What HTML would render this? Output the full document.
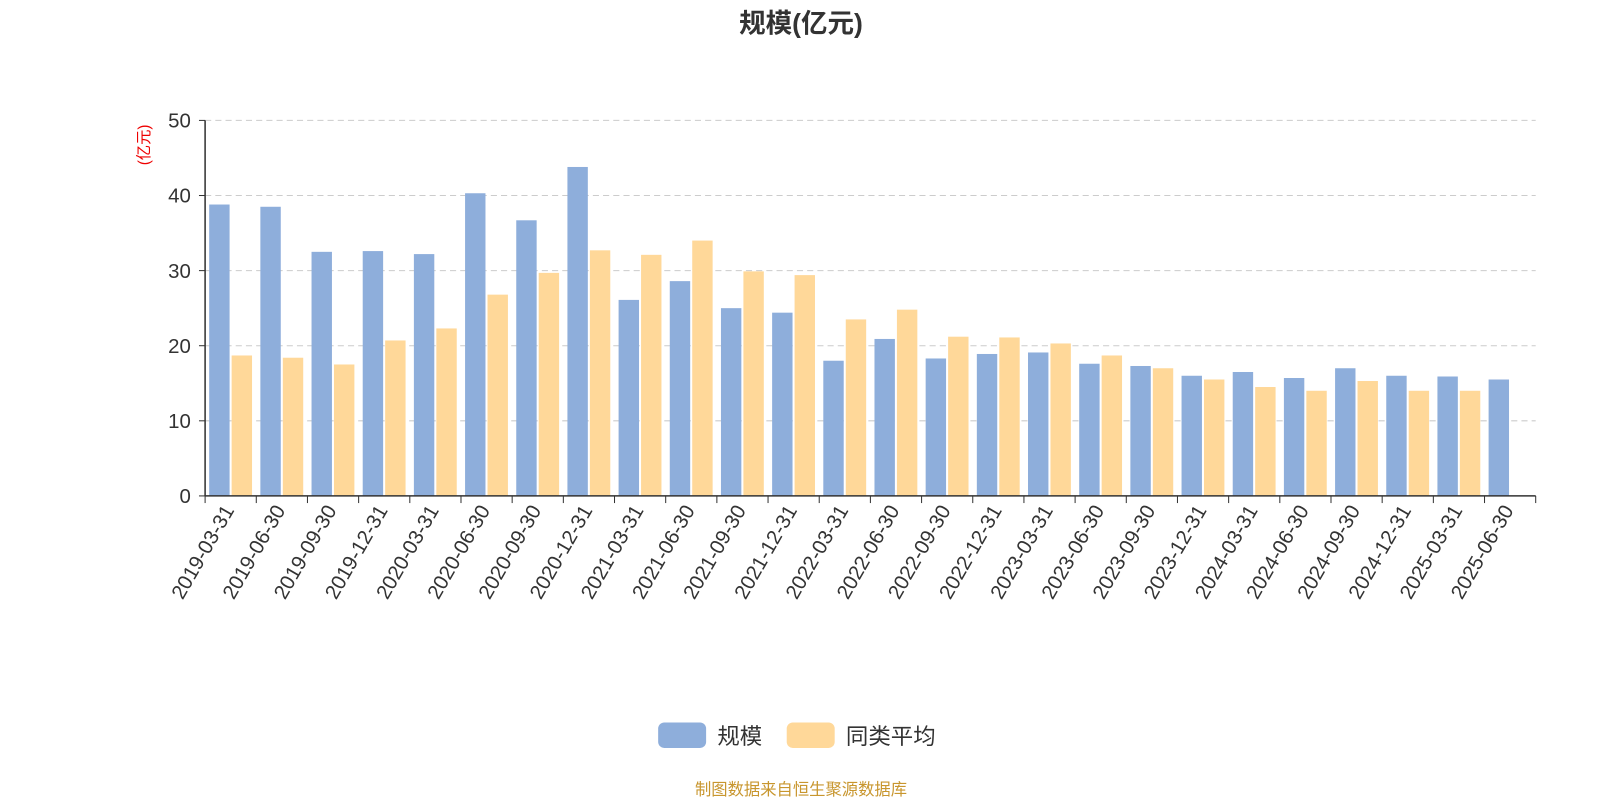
<!DOCTYPE html>
<html><head><meta charset="utf-8"><style>
body{margin:0;background:#fff;}
svg{display:block;font-family:"Liberation Sans","Noto Sans CJK SC",sans-serif;}
</style></head><body>
<svg id="chart" width="1600" height="800">
<g transform="scale(1.0204)">
<text x="785" y="32" text-anchor="middle" font-size="26" font-weight="bold" fill="#333">规模(亿元)</text>
<text transform="translate(146,142) rotate(-90)" text-anchor="middle" font-size="15" fill="#e00">(亿元)</text>
<g id="grid"></g><g id="bars"></g><g id="axes"></g>
<g>
<rect x="645" y="708" width="47" height="25" rx="6" fill="#8eaedb"/>
<text x="703" y="729" font-size="22" fill="#333">规模</text>
<rect x="771" y="708" width="47" height="25" rx="6" fill="#ffd899"/>
<text x="829" y="729" font-size="22" fill="#333">同类平均</text>
</g>
<text x="785" y="779" text-anchor="middle" font-size="16" fill="#c8962e">制图数据来自恒生聚源数据库</text>
</g>
</svg>
<script>
const categories=["2019-03-31","2019-06-30","2019-09-30","2019-12-31","2020-03-31","2020-06-30","2020-09-30","2020-12-31","2021-03-31","2021-06-30","2021-09-30","2021-12-31","2022-03-31","2022-06-30","2022-09-30","2022-12-31","2023-03-31","2023-06-30","2023-09-30","2023-12-31","2024-03-31","2024-06-30","2024-09-30","2024-12-31","2025-03-31","2025-06-30"];
const scaleValues=[38.8,38.5,32.5,32.6,32.2,40.3,36.7,43.8,26.1,28.6,25.0,24.4,18.0,20.9,18.3,18.9,19.1,17.6,17.3,16.0,16.5,15.7,17.0,16.0,15.9,15.5];
const avgValues=[18.7,18.4,17.5,20.7,22.3,26.8,29.7,32.7,32.1,34.0,29.9,29.4,23.5,24.8,21.2,21.1,20.3,18.7,17.0,15.5,14.5,14.0,15.3,14.0,14.0,null];
const yTicks=[0,10,20,30,40,50];
const NS="http://www.w3.org/2000/svg";
const x0=201,x1=1505,y0=486,y1=118,yMax=50;
const band=(x1-x0)/categories.length;
const xPos=i=>x0+i*band;
const yPos=v=>y0-(v/yMax)*(y0-y1);
function mk(tag,attrs,parent){const e=document.createElementNS(NS,tag);for(const k in attrs)e.setAttribute(k,attrs[k]);parent.appendChild(e);return e;}
const grid=document.getElementById('grid'),bars=document.getElementById('bars'),axes=document.getElementById('axes');
yTicks.forEach(t=>{
  const y=yPos(t);
  if(t>0){const l=mk('line',{x1:x0,x2:x1,y1:y,y2:y,stroke:'#ccc','stroke-dasharray':'6,4'},grid);
  
  }
  const tk=mk('line',{x1:x0-6,x2:x0,y1:y,y2:y,stroke:'#333'},axes);
  
  
  const tx=mk('text',{x:x0-14,y:y+7,'text-anchor':'end','font-size':'20',fill:'#333'},axes);
  tx.textContent=t;
  
  
});
categories.forEach((c,i)=>{
  const bx=xPos(i);
  if(scaleValues[i]!=null){const r=mk('rect',{x:bx+4,y:yPos(scaleValues[i]),width:20,height:y0-yPos(scaleValues[i]),fill:'#8eaedb'},bars);
  
  }
  if(avgValues[i]!=null){const r=mk('rect',{x:bx+26,y:yPos(avgValues[i]),width:20,height:y0-yPos(avgValues[i]),fill:'#ffd899'},bars);
  
  }
  const cx=bx+band/2;
  const tx=mk('text',{transform:'translate('+(cx+4)+','+(y0+14)+') rotate(-60)','text-anchor':'end','font-size':'20',fill:'#333'},axes);
  tx.textContent=c;
  
  
});
for(let i=0;i<=categories.length;i++){const tk=mk('line',{x1:xPos(i),x2:xPos(i),y1:y0,y2:y0+7,stroke:'#333'},axes);
  
  }
const xa=mk('line',{x1:x0,x2:x1,y1:y0,y2:y0,stroke:'#333','stroke-width':1.5},axes);


const ya=mk('line',{x1:x0,x2:x0,y1:y1,y2:y0,stroke:'#333','stroke-width':1.5},axes);


</script>
</body></html>
